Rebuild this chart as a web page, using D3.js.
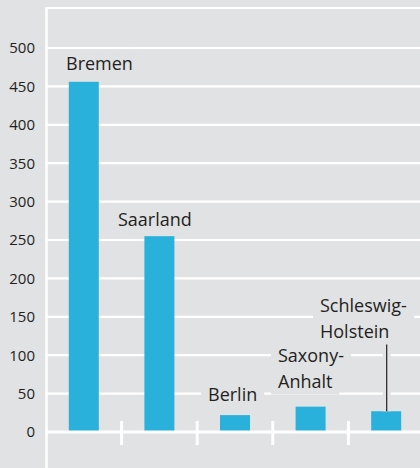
<!DOCTYPE html>
<html><head><meta charset="utf-8">
<script src="https://cdn.jsdelivr.net/npm/d3@7"></script>
<style>html,body{margin:0;padding:0;background:#e1e2e4;}svg{display:block;}</style>
</head><body>
<script>
const categories = ["Bremen", "Saarland", "Berlin", "Saxony-Anhalt", "Schleswig-Holstein"];
const values = [456, 255, 22, 33, 27];
const labelLines = [["Bremen"], ["Saarland"], ["Berlin"], ["Saxony-", "Anhalt"], ["Schleswig-", "Holstein"]];
const yTicks = [0, 50, 100, 150, 200, 250, 300, 350, 400, 450, 500];

const W = 420, H = 468, bg = "#e1e2e4", barColor = "#29b1db", textColor = "#231f20";
const svg = d3.select("body").append("svg").attr("width", W).attr("height", H);
svg.append("rect").attr("width", W).attr("height", H).attr("fill", bg);

const x = d3.scaleBand().domain(categories).range([46, 424]).padding(0);
const y = d3.scaleLinear().domain([0, 500]).range([432, 48]);
const font = "'Open Sans', sans-serif";

// gridlines
svg.append("g").selectAll("line").data(yTicks.filter(d => d > 0)).join("line")
  .attr("x1", 46).attr("x2", W).attr("y1", d => y(d)).attr("y2", d => y(d))
  .attr("stroke", "#fff").attr("stroke-width", 2.2);
// top frame line
svg.append("line").attr("x1", 46).attr("x2", W).attr("y1", 8).attr("y2", 8)
  .attr("stroke", "#fff").attr("stroke-width", 2.2);

// y axis labels
const yAxis = d3.axisLeft(y).tickValues(yTicks).tickSize(0).tickPadding(11);
const gy = svg.append("g").attr("transform", "translate(46,0)").call(yAxis);
gy.select(".domain").remove();
gy.selectAll("text").attr("font-family", font).attr("font-size", 15).attr("fill", textColor);

// bars
const bw = 30;
svg.append("g").selectAll("rect").data(categories).join("rect")
  .attr("x", d => x(d) + x.bandwidth() / 2 - bw / 2)
  .attr("width", bw)
  .attr("y", (d, i) => y(values[i]))
  .attr("height", (d, i) => y(0) - y(values[i]))
  .attr("fill", barColor);

// baseline axis
svg.append("line").attr("x1", 46).attr("x2", W).attr("y1", y(0)).attr("y2", y(0))
  .attr("stroke", "#fff").attr("stroke-width", 3);
svg.append("g").selectAll("line").data(categories.slice(1)).join("line")
  .attr("x1", d => x(d)).attr("x2", d => x(d)).attr("y1", 421).attr("y2", 445)
  .attr("stroke", "#fff").attr("stroke-width", 3);
// vertical axis line
svg.append("line").attr("x1", 46.5).attr("x2", 46.5).attr("y1", 7).attr("y2", H)
  .attr("stroke", "#fff").attr("stroke-width", 2.5);

// leader line for Schleswig-Holstein
const lx = x(categories[4]) + x.bandwidth() / 2 + 0.5;
svg.append("line").attr("x1", lx).attr("x2", lx).attr("y1", 339).attr("y2", y(values[4]))
  .attr("stroke", bg).attr("stroke-width", 8);
svg.append("line").attr("x1", lx).attr("x2", lx).attr("y1", 339).attr("y2", y(values[4]))
  .attr("stroke", textColor).attr("stroke-width", 1.2);

// labels (position: x left, baseline of first line)
const labelPos = [[66, 70], [118, 226], [208, 401], [278, 362], [320, 312]];
const lineH = 25.5;
labelLines.forEach((lines, i) => {
  const g = svg.append("g");
  lines.forEach((t, j) => {
    const tx = g.append("text").attr("x", labelPos[i][0]).attr("y", labelPos[i][1] + j * lineH)
      .attr("font-family", font).attr("font-size", 18).attr("fill", textColor).text(t);
    const b = tx.node().getBBox();
    g.insert("rect", "text").attr("x", b.x - 7).attr("y", b.y - 2).attr("width", b.width + 14).attr("height", b.height + 4)
      .attr("fill", bg);
  });
});
</script>
</body></html>
